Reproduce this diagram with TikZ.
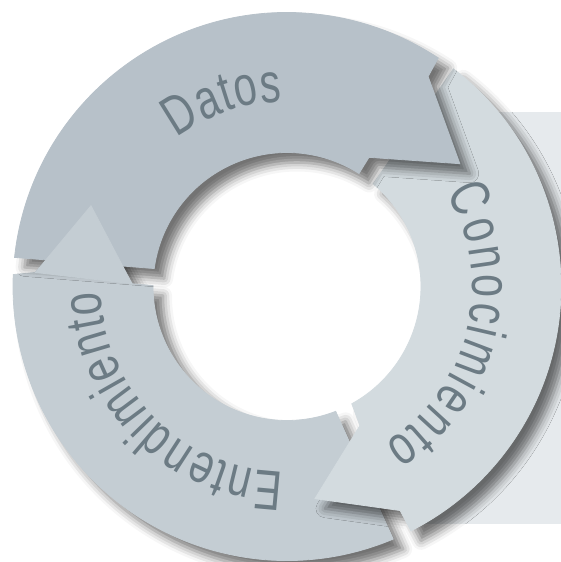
\documentclass[tikz,border=0pt]{standalone}
\usepackage{fontspec}
\newfontfamily\lblfont[FakeStretch=0.74]{Liberation Sans}
\usetikzlibrary{decorations.text,shadows.blur}
\definecolor{cDatos}{RGB}{183,193,201}
\definecolor{cEnt}{RGB}{196,205,211}
\definecolor{cCon}{RGB}{211,219,223}
\definecolor{cTxt}{RGB}{108,123,132}
\definecolor{cRect}{RGB}{230,234,237}
\tikzset{
  shd/.style={blur shadow={shadow xshift=10pt, shadow yshift=-10pt, shadow blur radius=9pt, shadow opacity=55}},
  seg/.style={fill=#1, draw=#1, line width=0.8pt, line join=miter},
  arclabel/.style={decoration={text effects along path, text={#1},
      text effects/.cd, text along path, fit text to path,
      characters={text=cTxt, font=\lblfont\fontsize{56}{56}\selectfont}}, decorate},
}
\begin{document}
\begin{tikzpicture}
\useasboundingbox (0,0) rectangle (561pt,562pt);
\fill[cRect] (424pt,38pt) rectangle (561pt,450pt);
\begin{scope}[shift={(287pt,275.5pt)}]
 % Entendimiento
 \path[seg=cEnt, shd] (-67.2:274pt) arc[start angle=-67.2, end angle=-182.5, radius=274pt]
   -- (-183.2:252pt) -- (-202.4:212pt) -- (-181:155pt) -- (-180.4:134pt)
   arc[start angle=-180.4, end angle=-68.7, radius=134pt] -- cycle;
 % Conocimiento
 \path[seg=cCon, shd] (52.6:274pt) arc[start angle=52.6, end angle=-63.1, radius=274pt]
   -- (-63.2:251pt) -- (-82.5:214pt) -- (-62.3:157pt) -- (-61.1:134pt)
   arc[start angle=-61.1, end angle=50, radius=134pt] -- cycle;
 % Datos
 \path[seg=cDatos, shd] (173.9:274pt) arc[start angle=173.9, end angle=56.5, radius=274pt]
   -- (56.1:253pt) -- (35.4:212pt) -- (57.6:153pt) -- (57.5:134pt)
   arc[start angle=57.5, end angle=172.3, radius=134pt] -- cycle;
 % Entendimiento arrow head on top of Datos tail
 \path[seg=cEnt] (176.8:252pt) -- (157.6:212pt) -- (179:155pt) -- cycle;
 % labels
 \path[arclabel=Datos] (126.5:185pt) arc[start angle=126.5, end angle=91.6, radius=185pt];
 \path[arclabel=Conocimiento] (30.5:185pt) arc[start angle=30.5, end angle=-58.3, radius=185pt];
 \path[arclabel=Entendimiento] (-91:186pt) arc[start angle=-91, end angle=-178.5, radius=186pt];
\end{scope}
\end{tikzpicture}
\end{document}
